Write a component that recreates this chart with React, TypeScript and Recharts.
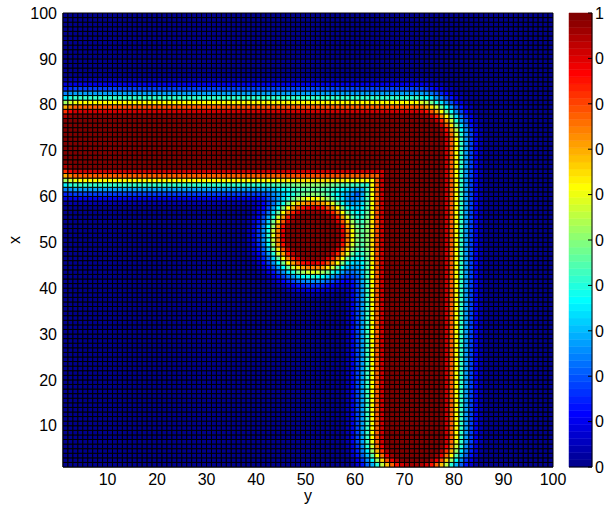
import React from 'react';
import { ScatterChart, Scatter, XAxis, YAxis, BarChart, Bar, ReferenceArea } from 'recharts';

// ---------- data ----------
const AXIS_DOMAIN: [number, number] = [1, 100];
const AXIS_TICKS = [10, 20, 30, 40, 50, 60, 70, 80, 90, 100];
const COLORBAR_TICKS = [0, 0.1, 0.2, 0.3, 0.4, 0.5, 0.6, 0.7, 0.8, 0.9, 1];
const COLORBAR_LABELS = ['0', '0', '0', '0', '0', '0', '0', '0', '0', '0', '1'];
const COLORMAP_SIZE = 64;

// sample positions of the pcolor grid (one cell per sample, 1..99 shown)
const SAMPLE_POS = Array.from({ length: 99 }, (_, i) => i + 1);

// horizontal bar of the L: [x centre, y start, y end, half width]
const ROW_BAR = [71.5, 4, 71.5, 9];
// vertical bar of the L: [y centre, x start, x end, half width]
const COL_BAR = [71.5, 7, 71.5, 9];
// disc: [y centre, x centre, radius]
const DISC = [51, 51, 8.3];
// interface profile: value vs. signed distance from the edge (cells)
const EDGE_S = [-3.5, -2.5, -1.5, -0.5, 0.5, 1.5, 2.5, 3.5, 4.5, 5.5, 6.5];
const EDGE_V = [1, 0.92, 0.78, 0.62, 0.42, 0.28, 0.18, 0.1, 0.04, 0.01, 0];

// ---------- layout ----------
const MAIN_W = 580;
const MAIN_H = 510;
const MAIN_MARGIN = { top: 13, right: 27, bottom: 0, left: 0 };
const Y_AXIS_W = 63;
const X_AXIS_H = 43;
const PLOT_W = MAIN_W - MAIN_MARGIN.left - MAIN_MARGIN.right - Y_AXIS_W;
const PLOT_H = MAIN_H - MAIN_MARGIN.top - MAIN_MARGIN.bottom - X_AXIS_H;
const CELL_W = PLOT_W / (AXIS_DOMAIN[1] - AXIS_DOMAIN[0]);
const CELL_H = PLOT_H / (AXIS_DOMAIN[1] - AXIS_DOMAIN[0]);
const FONT = '"Liberation Sans", Arial, Helvetica, sans-serif';
const FONT_SIZE = 16;

function edgeValue(s: number): number {
  if (s <= EDGE_S[0]) return EDGE_V[0];
  const n = EDGE_S.length;
  if (s >= EDGE_S[n - 1]) return EDGE_V[n - 1];
  for (let k = 0; k < n - 1; k++) {
    if (s <= EDGE_S[k + 1]) {
      const t = (s - EDGE_S[k]) / (EDGE_S[k + 1] - EDGE_S[k]);
      return EDGE_V[k] + t * (EDGE_V[k + 1] - EDGE_V[k]);
    }
  }
  return 0;
}

const clamp = (v: number, a: number, b: number) => Math.max(a, Math.min(b, v));

function fieldAt(y: number, x: number): number {
  const dRow = Math.hypot(y - clamp(y, ROW_BAR[1], ROW_BAR[2]), x - ROW_BAR[0]);
  const dCol = Math.hypot(y - COL_BAR[0], x - clamp(x, COL_BAR[1], COL_BAR[2]));
  const dDisc = Math.hypot(y - DISC[0], x - DISC[1]);
  const bars = Math.max(edgeValue(dRow - ROW_BAR[3]), edgeValue(dCol - COL_BAR[3]));
  const c = edgeValue(dDisc - DISC[2]);
  return 1 - (1 - bars) * (1 - c);
}

function jetColor(i0: number): string {
  const i = i0 + 1;
  const u = (k: number) => (k < 1 || k > 47 ? 0 : k <= 16 ? k / 16 : k <= 31 ? 1 : (48 - k) / 16);
  const r = Math.round(u(i - 24) * 255);
  const g = Math.round(u(i - 8) * 255);
  const b = Math.round(u(i + 8) * 255);
  return `rgb(${r},${g},${b})`;
}

const valueColor = (v: number) =>
  jetColor(clamp(Math.floor(v * COLORMAP_SIZE), 0, COLORMAP_SIZE - 1));

const cells: { y: number; x: number; v: number; color: string }[] = [];
for (const xs of SAMPLE_POS) {
  for (const ys of SAMPLE_POS) {
    const v = fieldAt(ys, xs);
    cells.push({ y: ys + 0.5, x: xs + 0.5, v, color: valueColor(v) });
  }
}

// colour bar: one stacked column of 64 equal bands
const BAND_KEYS = Array.from({ length: COLORMAP_SIZE }, (_, i) => `b${i}`);
const colorbarRow: Record<string, number | string> = { name: 'cb' };
BAND_KEYS.forEach((k) => {
  colorbarRow[k] = 1 / COLORMAP_SIZE;
});
const colorbarData = [colorbarRow];

const CellShape = (props: any) => {
  const { cx, cy, payload } = props;
  if (cx == null || cy == null) return null;
  return (
    <rect
      x={cx - CELL_W / 2}
      y={cy - CELL_H / 2}
      width={CELL_W}
      height={CELL_H}
      fill={payload.color}
      stroke="#000"
      strokeWidth={1}
    />
  );
};

const CB_MARGIN = 3;
const CbTick = (props: any) => {
  const { x, y, payload } = props;
  const idx = COLORBAR_TICKS.findIndex((t) => Math.abs(t - payload.value) < 1e-9);
  const ax = x - CB_MARGIN;
  return (
    <g>
      <line x1={ax - 4} x2={ax} y1={y} y2={y} stroke="#000" strokeWidth={1} />
      <text x={x} y={y} dy="0.36em" textAnchor="start" fontSize={FONT_SIZE} fill="#000" fontFamily={FONT}>
        {idx >= 0 ? COLORBAR_LABELS[idx] : ''}
      </text>
    </g>
  );
};

export default function App() {
  return (
    <div
      style={{
        position: 'absolute',
        left: 0,
        top: 0,
        width: 605,
        height: 510,
        overflow: 'hidden',
        background: '#fff',
        fontFamily: FONT,
      }}
    >
      <div style={{ position: 'absolute', left: 0, top: 0 }}>
        <ScatterChart width={MAIN_W} height={MAIN_H} margin={MAIN_MARGIN}>
          <XAxis
            type="number"
            dataKey="y"
            domain={AXIS_DOMAIN}
            ticks={AXIS_TICKS}
            interval={0}
            allowDataOverflow
            height={X_AXIS_H}
            tickSize={0}
            tickMargin={7}
            axisLine={{ stroke: '#000' }}
            tick={{ fill: '#000', fontSize: FONT_SIZE, fontFamily: FONT }}
            label={{ value: 'y', position: 'insideBottom', offset: 9, fill: '#000', fontSize: FONT_SIZE, fontFamily: FONT }}
          />
          <YAxis
            type="number"
            dataKey="x"
            domain={AXIS_DOMAIN}
            ticks={AXIS_TICKS}
            interval={0}
            allowDataOverflow
            width={Y_AXIS_W}
            tickSize={0}
            tickMargin={6}
            axisLine={{ stroke: '#000' }}
            tick={{ fill: '#000', fontSize: FONT_SIZE, fontFamily: FONT }}
            label={{ value: 'x', angle: -90, position: 'insideLeft', offset: 14, dy: 4, fill: '#000', fontSize: FONT_SIZE, fontFamily: FONT }}
          />
          <Scatter data={cells} isAnimationActive={false} shape={CellShape} />
          <ReferenceArea
            x1={AXIS_DOMAIN[0]}
            x2={AXIS_DOMAIN[1]}
            y1={AXIS_DOMAIN[0]}
            y2={AXIS_DOMAIN[1]}
            fill="none"
            fillOpacity={0}
            stroke="#000"
            strokeWidth={1}
          />
        </ScatterChart>
      </div>
      <div style={{ position: 'absolute', left: 564, top: 0 }}>
        <BarChart
          width={41}
          height={MAIN_H}
          data={colorbarData}
          margin={{ top: 13, right: 0, bottom: 0, left: 5 }}
          barCategoryGap={0}
          barGap={0}
        >
          <XAxis
            type="category"
            dataKey="name"
            height={X_AXIS_H}
            tick={false}
            tickLine={false}
            axisLine={{ stroke: '#000' }}
          />
          <XAxis
            xAxisId="top"
            type="category"
            dataKey="name"
            orientation="top"
            height={0}
            tick={false}
            tickLine={false}
            axisLine={{ stroke: '#000' }}
          />
          <YAxis
            yAxisId="left"
            type="number"
            orientation="left"
            domain={[0, 1]}
            width={0}
            tick={false}
            tickLine={false}
            axisLine={{ stroke: '#000' }}
          />
          <YAxis
            type="number"
            orientation="right"
            domain={[0, 1]}
            ticks={COLORBAR_TICKS}
            interval={0}
            width={13}
            tickSize={0}
            tickMargin={CB_MARGIN}
            axisLine={{ stroke: '#000' }}
            tick={<CbTick />}
          />
          {BAND_KEYS.map((k, i) => (
            <Bar
              key={k}
              dataKey={k}
              stackId="cb"
              fill={jetColor(i)}
              stroke={jetColor(i)}
              strokeWidth={0.5}
              isAnimationActive={false}
            />
          ))}
        </BarChart>
      </div>
    </div>
  );
}
